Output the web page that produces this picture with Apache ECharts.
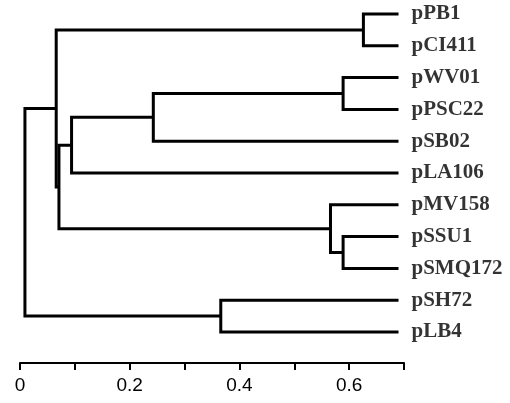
<!DOCTYPE html>
<html>
<head>
<meta charset="utf-8">
<script src="https://cdn.jsdelivr.net/npm/echarts@6/dist/echarts.min.js"></script>
<style>
  html, body { margin: 0; padding: 0; background: #fff; }
  #chart { width: 510px; height: 403px; }
</style>
</head>
<body>
<div id="chart"></div>
<script>
// leaves, top to bottom
var leaves = ['pPB1', 'pCI411', 'pWV01', 'pPSC22', 'pSB02', 'pLA106', 'pMV158', 'pSSU1', 'pSMQ172', 'pSH72', 'pLB4'];
// position of the leaf tips on the scale
var leafTip = 0.69;
// merges: [child a, child b, joining position]; node ids continue after the leaves (11, 12, ...)
var mergeA = [0, 2, 12, 13, 7, 6, 14, 11, 9, 18];
var mergeB = [1, 3, 4, 5, 8, 15, 16, 17, 10, 19];
var mergeAt = [0.626, 0.589, 0.243, 0.094, 0.589, 0.566, 0.071, 0.066, 0.366, 0.009];
var tickLabels = ['0', '0.2', '0.4', '0.6'];

// node positions (x = scale value, y = leaf index)
var nodeX = leaves.map(function () { return leafTip; });
var nodeY = leaves.map(function (d, i) { return i; });
var links = [];
for (var i = 0; i < mergeAt.length; i++) {
    var a = mergeA[i], b = mergeB[i], h = mergeAt[i];
    links.push([nodeX[a], nodeY[a], h, nodeY[b], nodeX[b]]);
    nodeX.push(h);
    nodeY.push((nodeY[a] + nodeY[b]) / 2);
}
var leafPoints = leaves.map(function (name, i) {
    return { name: name, value: [leafTip, i] };
});

var myChart = echarts.init(document.getElementById('chart'));
var option = {
    animation: false,
    backgroundColor: '#fff',
    grid: { left: 20, right: 106, top: 14, bottom: 71 },
    xAxis: {
        type: 'value',
        position: 'bottom',
        min: 0,
        max: 0.7,
        interval: 0.1,
        offset: 31,
        splitLine: { show: false },
        axisLine: { show: true, onZero: false, lineStyle: { color: '#000', width: 2 } },
        axisTick: { show: true, length: 7, lineStyle: { color: '#000', width: 2 } },
        axisLabel: {
            margin: 13,
            color: '#000',
            fontSize: 19,
            fontFamily: 'Liberation Sans',
            formatter: function (v) {
                var s = String(Math.round(v * 10) / 10);
                return tickLabels.indexOf(s) >= 0 ? s : '';
            }
        }
    },
    yAxis: {
        type: 'value',
        min: 0,
        max: leaves.length - 1,
        inverse: true,
        show: false
    },
    series: [{
        type: 'custom',
        data: links,
        encode: { x: [0, 2, 4], y: [1, 3] },
        clip: false,
        renderItem: function (params, api) {
            var p1 = api.coord([api.value(0), api.value(1)]);
            var p2 = api.coord([api.value(2), api.value(1)]);
            var p3 = api.coord([api.value(2), api.value(3)]);
            var p4 = api.coord([api.value(4), api.value(3)]);
            return {
                type: 'polyline',
                shape: { points: [p1, p2, p3, p4] },
                style: { stroke: '#000', lineWidth: 3, fill: null, lineJoin: 'miter', lineCap: 'butt' }
            };
        }
    }, {
        type: 'scatter',
        data: leafPoints,
        symbolSize: 0,
        silent: true,
        label: {
            show: true,
            position: 'right',
            distance: 13,
            formatter: '{b}',
            color: '#000',
            fontSize: 21,
            fontWeight: 'bold',
            fontFamily: 'Liberation Serif'
        }
    }]
};
myChart.setOption(option);
</script>
</body>
</html>
